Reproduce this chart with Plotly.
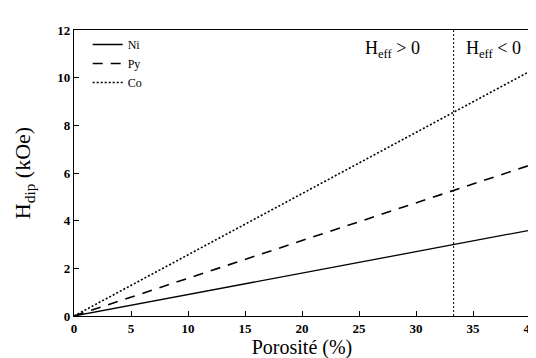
import plotly.graph_objects as go

# porosité (%) et champ dipolaire (kOe)
porosite = [0, 5, 10, 15, 20, 25, 30, 35, 40]
h_ni = [0, 0.45, 0.9, 1.35, 1.8, 2.25, 2.7, 3.15, 3.6]
h_py = [0, 0.79, 1.58, 2.37, 3.17, 3.96, 4.75, 5.54, 6.33]
h_co = [0, 1.28, 2.57, 3.85, 5.14, 6.42, 7.7, 8.99, 10.27]
p_limite = 33.3          # Heff = 0
h_limite = [0, 12]

SERIF = "Liberation Serif"

fig = go.Figure()
fig.add_trace(go.Scatter(x=porosite, y=h_ni, mode="lines", name="Ni",
                         line=dict(color="black", width=1.3, dash="solid")))
fig.add_trace(go.Scatter(x=porosite, y=h_py, mode="lines", name="Py",
                         line=dict(color="black", width=1.6, dash="10px,8px")))
fig.add_trace(go.Scatter(x=porosite, y=h_co, mode="lines", name="Co",
                         line=dict(color="black", width=1.6, dash="2px,2px")))
fig.add_trace(go.Scatter(x=[p_limite, p_limite], y=h_limite, mode="lines",
                         showlegend=False,
                         line=dict(color="black", width=1, dash="2px,2px")))

fig.add_annotation(x=27.9, y=11.2, text="H<sub>eff</sub> > 0", showarrow=False,
                   font=dict(family=SERIF, size=18, color="black"))
fig.add_annotation(x=36.8, y=11.2, text="H<sub>eff</sub> < 0", showarrow=False,
                   font=dict(family=SERIF, size=18, color="black"))

axis = dict(showline=True, linecolor="black", linewidth=1.3, mirror=True,
            ticks="inside", ticklen=5, tickcolor="black", showgrid=False,
            zeroline=False, tickfont=dict(family=SERIF, size=13, color="black",
                                          weight="bold"))
fig.update_xaxes(range=[0, 40], dtick=5, title=dict(text="Porosité (%)", standoff=3,
                 font=dict(family=SERIF, size=20, color="black")), **axis)
fig.update_yaxes(range=[0, 12], dtick=2, title=dict(text="H<sub>dip</sub> (kOe)", standoff=20,
                 font=dict(family=SERIF, size=22, color="black")), **axis)

fig.update_layout(width=536, height=358, plot_bgcolor="white", paper_bgcolor="white",
                  font=dict(family=SERIF, color="black"),
                  margin=dict(l=66, r=7, t=22, b=50),
                  legend=dict(x=0.03, y=1.0, xanchor="left", yanchor="top",
                              bgcolor="rgba(0,0,0,0)", tracegroupgap=0, itemwidth=30,
                              font=dict(family=SERIF, size=12, color="black")))

fig.write_html("out.html")
